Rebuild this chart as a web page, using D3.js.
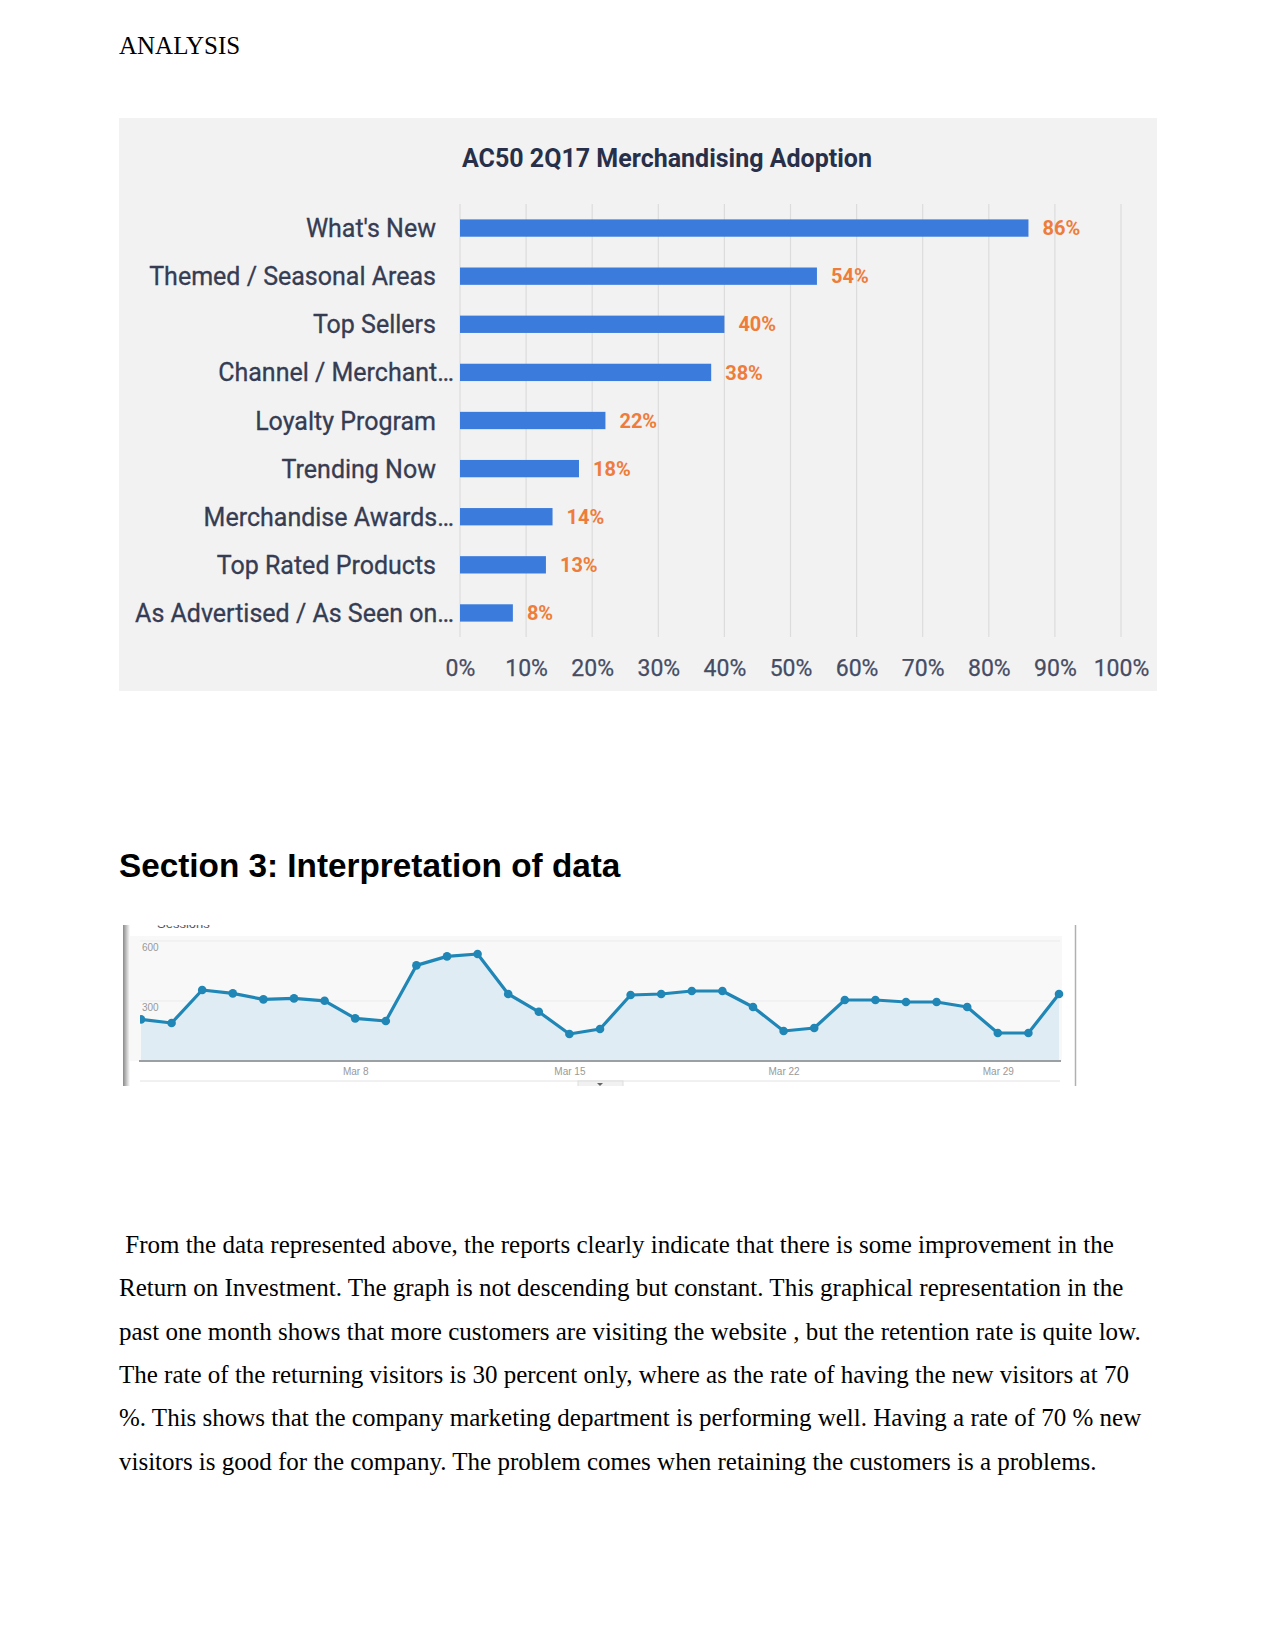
<!DOCTYPE html>
<html>
<head>
<meta charset="utf-8">
<script src="https://cdn.jsdelivr.net/npm/d3@7"></script>
<style>
  body { margin: 0; background: #fff; }
  svg { display: block; }
  .doc { font-family: "Liberation Serif", "Times New Roman", serif; font-size: 25px; fill: #000; white-space: pre; }
  .heading { font-family: "Liberation Sans", Arial, sans-serif; font-size: 33.3px; font-weight: bold; fill: #000; }
  .adoption text { font-family: Roboto, "Liberation Sans", sans-serif; }
  .sessions text { font-family: "Liberation Sans", Arial, sans-serif; }
</style>
</head>
<body>
<div id="page"></div>
<script>
(function (d3) {
    'use strict';

    // Merchandising adoption, share of AC50 retailers.
    var categories = [
        "What's New",
        'Themed / Seasonal Areas',
        'Top Sellers',
        'Channel / Merchant\u2026',
        'Loyalty Program',
        'Trending Now',
        'Merchandise Awards\u2026',
        'Top Rated Products',
        'As Advertised / As Seen on\u2026'
    ];
    var adoption = [86, 54, 40, 38, 22, 18, 14, 13, 8];
    var percentTicks = [0, 10, 20, 30, 40, 50, 60, 70, 80, 90, 100];

    // Daily sessions in March.
    var sessionDays = [1, 2, 3, 4, 5, 6, 7, 8, 9, 10, 11, 12, 13, 14, 15, 16,
        17, 18, 19, 20, 21, 22, 23, 24, 25, 26, 27, 28, 29, 30, 31];
    var sessions = [208, 190, 355, 338, 308, 313, 301, 213, 200, 478, 523, 535,
        335, 246, 135, 160, 330, 335, 350, 350, 270, 150, 165, 305, 305, 295,
        295, 270, 140, 140, 335];
    var sessionTicks = [300, 600];
    var dateTicks = [8, 15, 22, 29];

    var paragraph = [
        ' From the data represented above, the reports clearly indicate that there is some improvement in the',
        'Return on Investment. The graph is not descending but constant. This graphical representation in the',
        'past one month shows that more customers are visiting the website , but the retention rate is quite low.',
        'The rate of the returning visitors is 30 percent only, where as the rate of having the new visitors at 70',
        '%. This shows that the company marketing department is performing well. Having a rate of 70 % new',
        'visitors is good for the company. The problem comes when retaining the customers is a problems.'
    ];

    var svg = d3.select('#page').append('svg')
        .attr('width', 1275)
        .attr('height', 1650)
    ;

    svg.append('text')
        .attr('class', 'doc')
        .attr('x', 119)
        .attr('y', 54)
        .text('ANALYSIS')
    ;

    drawAdoption();
    drawSessions();

    svg.append('text')
        .attr('class', 'heading')
        .attr('x', 119)
        .attr('y', 877)
        .text('Section 3: Interpretation of data')
    ;

    svg.append('g')
        .selectAll('text')
        .data(paragraph)
        .join('text')
        .attr('class', 'doc')
        .attr('x', 119)
        .attr('y', function (d, i) { return 1253 + i * 43.3; })
        .text(function (d) { return d; })
    ;

    function drawAdoption() {
        var g = svg.append('g').attr('class', 'adoption');

        var x = d3.scaleLinear().domain([0, 100]).range([460, 1121]);
        var y = d3.scaleBand()
            .domain(categories)
            .range([204, 637])
            .paddingInner(0.64)
            .paddingOuter(0.32)
        ;

        g.append('rect')
            .attr('x', 119)
            .attr('y', 118)
            .attr('width', 1038)
            .attr('height', 573)
            .attr('fill', '#f2f2f2')
        ;

        // Vertical gridlines.
        g.append('g')
            .selectAll('line')
            .data(percentTicks)
            .join('line')
            .attr('x1', function (d) { return x(d); })
            .attr('x2', function (d) { return x(d); })
            .attr('y1', y.range()[0])
            .attr('y2', y.range()[1])
            .attr('stroke', '#dcdcdc')
            .attr('stroke-width', 1.2)
        ;

        g.append('text')
            .attr('x', 667)
            .attr('y', 167)
            .attr('text-anchor', 'middle')
            .attr('font-size', 25)
            .attr('font-weight', 'bold')
            .attr('fill', '#283049')
            .text('AC50 2Q17 Merchandising Adoption')
        ;

        var rows = categories.map(function (c, i) {
            return {name: c, value: adoption[i]};
        });

        g.append('g')
            .selectAll('rect')
            .data(rows)
            .join('rect')
            .attr('x', x(0))
            .attr('y', function (d) { return y(d.name); })
            .attr('width', function (d) { return x(d.value) - x(0); })
            .attr('height', y.bandwidth())
            .attr('fill', '#3a7bdc')
        ;

        g.append('g')
            .selectAll('text')
            .data(rows)
            .join('text')
            .attr('x', function (d) { return x(d.value) + 14; })
            .attr('y', function (d) { return y(d.name) + y.bandwidth() / 2; })
            .attr('dy', '0.36em')
            .attr('font-size', 20)
            .attr('font-weight', 'bold')
            .attr('fill', '#ee7c3a')
            .text(function (d) { return d.value + '%'; })
        ;

        // Truncated labels let the ellipsis hang past the others.
        g.append('g')
            .selectAll('text')
            .data(rows)
            .join('text')
            .attr('x', function (d) {
                return /\u2026$/.test(d.name) ? x(0) - 6 : x(0) - 24;
            })
            .attr('y', function (d) { return y(d.name) + y.bandwidth() / 2; })
            .attr('dy', '0.36em')
            .attr('text-anchor', 'end')
            .attr('font-size', 25)
            .attr('fill', '#363c52')
            .attr('stroke', '#363c52')
            .attr('stroke-width', 0.3)
            .text(function (d) { return d.name; })
        ;

        g.append('g')
            .attr('transform', 'translate(0,657)')
            .call(d3.axisBottom(x)
                .tickValues(percentTicks)
                .tickFormat(function (d) { return d + '%'; })
                .tickSize(0))
            .call(function (a) { a.select('.domain').remove(); })
            .selectAll('text')
            .attr('font-size', 23)
            .attr('fill', '#464c63')
            .attr('stroke', '#464c63')
            .attr('stroke-width', 0.25)
        ;
    }

    function drawSessions() {
        var lineColor = '#1f86b6';

        var data = sessionDays.map(function (d, i) {
            return {date: new Date(2017, 2, d), value: sessions[i]};
        });

        var x = d3.scaleTime()
            .domain([new Date(2017, 2, 1), new Date(2017, 2, 31)])
            .range([141, 1059])
        ;
        var y = d3.scaleLinear().domain([0, 600]).range([1061, 941]);

        var defs = svg.append('defs');
        defs.append('clipPath').attr('id', 'shot')
            .append('rect')
            .attr('x', 122).attr('y', 925).attr('width', 956).attr('height', 161)
        ;
        defs.append('clipPath').attr('id', 'plot')
            .append('rect')
            .attr('x', 140).attr('y', 925).attr('width', 930).attr('height', 140)
        ;
        var shade = defs.append('linearGradient').attr('id', 'edge');
        shade.append('stop').attr('offset', '0%').attr('stop-color', '#8a8a8a');
        shade.append('stop').attr('offset', '100%').attr('stop-color', '#ffffff');

        var g = svg.append('g')
            .attr('class', 'sessions')
            .attr('clip-path', 'url(#shot)')
        ;

        g.append('rect')
            .attr('x', 128).attr('y', 936).attr('width', 934).attr('height', 125)
            .attr('fill', '#f8f8f8')
        ;

        g.append('rect')
            .attr('x', 123).attr('y', 925).attr('width', 7).attr('height', 161)
            .attr('fill', 'url(#edge)')
        ;

        // Legend, mostly cut off by the crop.
        g.append('circle')
            .attr('cx', 145).attr('cy', 921).attr('r', 4)
            .attr('fill', lineColor)
        ;
        g.append('text')
            .attr('x', 157).attr('y', 928)
            .attr('font-size', 13)
            .attr('fill', '#555')
            .text('Sessions')
        ;

        g.append('g')
            .selectAll('line')
            .data(sessionTicks)
            .join('line')
            .attr('x1', 140).attr('x2', 1060)
            .attr('y1', function (d) { return y(d); })
            .attr('y2', function (d) { return y(d); })
            .attr('stroke', '#ebebeb')
        ;

        var plot = g.append('g').attr('clip-path', 'url(#plot)');

        plot.append('path')
            .datum(data)
            .attr('fill', '#dfecf3')
            .attr('d', d3.area()
                .x(function (d) { return x(d.date); })
                .y0(y(0))
                .y1(function (d) { return y(d.value); }))
        ;

        plot.append('path')
            .datum(data)
            .attr('fill', 'none')
            .attr('stroke', lineColor)
            .attr('stroke-width', 3.2)
            .attr('stroke-linejoin', 'round')
            .attr('d', d3.line()
                .x(function (d) { return x(d.date); })
                .y(function (d) { return y(d.value); }))
        ;

        plot.append('g')
            .selectAll('circle')
            .data(data)
            .join('circle')
            .attr('cx', function (d) { return x(d.date); })
            .attr('cy', function (d) { return y(d.value); })
            .attr('r', 4.3)
            .attr('fill', lineColor)
        ;

        g.append('line')
            .attr('x1', 139).attr('x2', 1061)
            .attr('y1', y(0)).attr('y2', y(0))
            .attr('stroke', '#9aa0a4')
            .attr('stroke-width', 2)
        ;

        g.append('g')
            .selectAll('text')
            .data(sessionTicks)
            .join('text')
            .attr('x', 142)
            .attr('y', function (d) { return y(d) + 10; })
            .attr('font-size', 10)
            .attr('fill', '#999')
            .text(function (d) { return d; })
        ;

        g.append('g')
            .attr('transform', 'translate(0,' + y(0) + ')')
            .call(d3.axisBottom(x)
                .tickValues(dateTicks.map(function (d) { return new Date(2017, 2, d); }))
                .tickFormat(d3.timeFormat('%b %-d'))
                .tickSize(0)
                .tickPadding(7))
            .call(function (a) { a.select('.domain').remove(); })
            .selectAll('text')
            .attr('font-size', 10)
            .attr('fill', '#999')
            .attr('font-family', '"Liberation Sans", Arial, sans-serif')
        ;

        // Scroll strip under the chart.
        g.append('line')
            .attr('x1', 140).attr('x2', 1060)
            .attr('y1', 1081).attr('y2', 1081)
            .attr('stroke', '#e2e2e2')
        ;
        g.append('rect')
            .attr('x', 578).attr('y', 1081).attr('width', 45).attr('height', 6)
            .attr('fill', '#f1f1f1')
            .attr('stroke', '#dddddd')
        ;
        g.append('path')
            .attr('d', 'M597,1083 L603,1083 L600,1086 Z')
            .attr('fill', '#666')
        ;

        g.append('line')
            .attr('x1', 1075.5).attr('x2', 1075.5)
            .attr('y1', 925).attr('y2', 1086)
            .attr('stroke', '#b0b0b0')
            .attr('stroke-width', 1.5)
        ;
    }
})(d3);
</script>
</body>
</html>
